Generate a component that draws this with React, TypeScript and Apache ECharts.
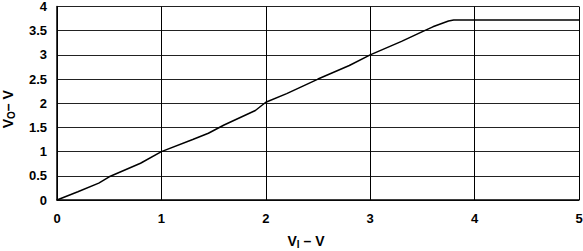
import React, { useEffect, useRef } from "react";
import * as echarts from "echarts";

const inputV = [0, 0.2, 0.4, 0.5, 0.8, 1.0, 1.3, 1.45, 1.6, 1.9, 2.0, 2.2, 2.5, 2.8, 3.0, 3.3, 3.5, 3.6, 3.75, 3.8, 5.0];
const outputV = [0, 0.17, 0.35, 0.48, 0.76, 1.0, 1.25, 1.38, 1.55, 1.85, 2.02, 2.2, 2.5, 2.78, 3.0, 3.28, 3.48, 3.58, 3.7, 3.72, 3.72];

export default function App() {
  const ref = useRef<HTMLDivElement>(null);
  useEffect(() => {
    if (!ref.current) return;
    const chart = echarts.init(ref.current, undefined, { renderer: "svg" });
    const font = "Liberation Sans, Arial, sans-serif";
    const rich = {
      v: { fontFamily: font, fontWeight: "bold", fontSize: 14, color: "#000" },
      s: { fontFamily: font, fontWeight: "bold", fontSize: 10, color: "#000", verticalAlign: "bottom", padding: [7, 0, 0, 0] },
    };
    chart.setOption({
      animation: false,
      grid: { left: 57, right: 4, top: 6.5, bottom: 51, outerBoundsMode: "none", containLabel: false },
      xAxis: {
        type: "value",
        min: 0,
        max: 5,
        interval: 1,
        name: "{v|V}{s|I}{v| – V}",
        nameLocation: "middle",
        nameGap: 32,
        nameTextStyle: { rich, padding: [0, 24, 0, 0] },
        axisLine: { show: true, lineStyle: { color: "#000", width: 1.5 } },
        axisTick: { show: false },
        axisLabel: { fontFamily: font, fontWeight: "bold", fontSize: 13, color: "#000", margin: 12 },
        splitLine: { show: true, lineStyle: { color: "#000", width: 1 } },
      },
      yAxis: {
        type: "value",
        min: 0,
        max: 4,
        interval: 0.5,
        name: "{v|V}{s|O}{v|– V}",
        nameLocation: "middle",
        nameGap: 41,
        nameRotate: 90,
        nameTextStyle: { rich, padding: [0, 12, 0, 0] },
        axisLine: { show: true, lineStyle: { color: "#000", width: 1.5 } },
        axisTick: { show: false },
        axisLabel: { fontFamily: font, fontWeight: "bold", fontSize: 13, color: "#000", margin: 10 },
        splitLine: { show: true, lineStyle: { color: "#222", width: 1 } },
      },
      series: [
        {
          type: "line",
          data: inputV.map((x, i) => [x, outputV[i]]),
          showSymbol: false,
          lineStyle: { color: "#000", width: 1.5 },
        },
      ],
    });
    return () => chart.dispose();
  }, []);
  return <div ref={ref} style={{ width: 583, height: 251, position: "absolute", left: 0, top: 0, background: "#fff" }} />;
}
